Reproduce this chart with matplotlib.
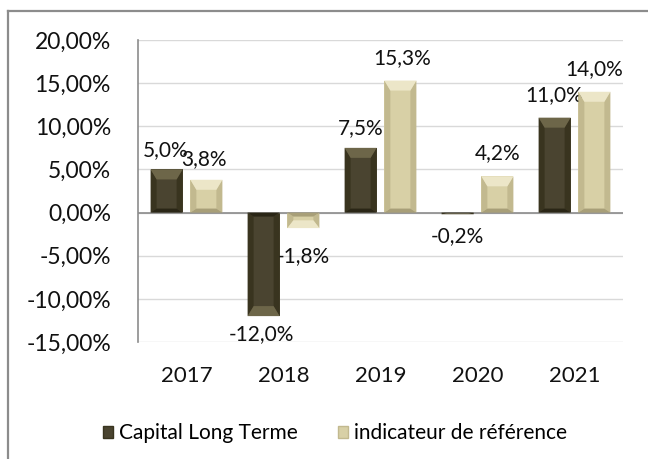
import matplotlib
matplotlib.use("Agg")
import matplotlib.pyplot as plt
from matplotlib.patches import Polygon, Patch
from matplotlib.lines import Line2D
from matplotlib.transforms import IdentityTransform
import numpy as np

years = ["2017", "2018", "2019", "2020", "2021"]
capital = [5.0, -12.0, 7.5, -0.2, 11.0]
indicateur = [3.8, -1.8, 15.3, 4.2, 14.0]
series_names = ["Capital Long Terme", "indicateur de référence"]
yticks = [-15, -10, -5, 0, 5, 10, 15, 20]

plt.rcParams['font.family'] = ['Lato', 'DejaVu Sans']

W, H, DPI = 648, 459, 100
fig = plt.figure(figsize=(W / DPI, H / DPI), dpi=DPI)
ax = fig.add_axes([138 / W, 1 - 342 / H, (623 - 138) / W, (342 - 40) / H])

x = np.arange(len(years))
bw = 0.33
gap = 0.08
off = (bw + gap) / 2

dark = {'main': '#4a4430', 'top': '#6d6649', 'side': '#39341f', 'bot': '#2a2616'}
light = {'main': '#d8d0a6', 'top': '#ece6c8', 'side': '#c2b98f', 'bot': '#a89f78'}

b1 = ax.bar(x - off, capital, bw, color=dark['main'], zorder=3)
b2 = ax.bar(x + off, indicateur, bw, color=light['main'], zorder=3)

ax.set_xlim(-0.5, len(years) - 0.5)
ax.set_ylim(-15, 20)
ax.set_yticks(yticks)
ax.set_yticklabels([f"{v:.2f}".replace('.', ',') + "%" for v in yticks])
ax.set_xticks(x)
ax.set_xticklabels(years)
ax.tick_params(axis='both', length=0, colors='#111111')
ax.tick_params(axis='y', pad=19.5, labelsize=16.5)
ax.tick_params(axis='x', pad=17, labelsize=16)
ax.grid(axis='y', color='#d9d9d9', linewidth=1.0, zorder=0)
for s in ['top', 'right', 'bottom']:
    ax.spines[s].set_visible(False)
ax.spines['left'].set_color('#8c8c8c')
ax.spines['left'].set_linewidth(1.2)
ax.axhline(0, color='#8c8c8c', linewidth=1.2, zorder=4)

fig.canvas.draw()


def bevel(patch, cols, positive):
    bb = patch.get_window_extent()
    x0, x1, y0, y1 = bb.x0, bb.x1, bb.y0, bb.y1
    h = y1 - y0
    if h < 1:
        return
    t = min(10.0, h / 2)
    s = min(6.0, (x1 - x0) / 2)
    bt = min(4.0, h / 2)
    if positive:
        tt, bb_ = t, bt
    else:
        tt, bb_ = bt, t
    ix0, ix1, iy0, iy1 = x0 + s, x1 - s, y0 + bb_, y1 - tt
    polys = [
        ([(x0, y0), (x0, y1), (ix0, iy1), (ix0, iy0)], cols['side']),
        ([(x1, y0), (x1, y1), (ix1, iy1), (ix1, iy0)], cols['side']),
        ([(x0, y1), (x1, y1), (ix1, iy1), (ix0, iy1)], cols['top'] if positive else cols['bot']),
        ([(x0, y0), (x1, y0), (ix1, iy0), (ix0, iy0)], cols['bot'] if positive else cols['top']),
    ]
    for pts, c in polys:
        fig.add_artist(Polygon(pts, closed=True, facecolor=c, edgecolor='none',
                               transform=IdentityTransform(), zorder=3.5))


for p, v in zip(b1, capital):
    bevel(p, dark, v >= 0)
for p, v in zip(b2, indicateur):
    bevel(p, light, v >= 0)


def fmt(v):
    return f"{v:.1f}".replace('.', ',') + "%"


cap_dx = [-1, -1.5, 0, 0, 0]
cap_dy = [13.7, -12.6, 14.5, -16, 16]
ind_dx = [-2, 0, 1.5, 0, 0]
ind_dy = [15, -19.8, 16.5, 17, 16.5]
for i in range(len(years)):
    ax.annotate(fmt(capital[i]), (x[i] - off, capital[i]), xytext=(cap_dx[i], cap_dy[i]),
                textcoords='offset points', ha='center', va='center', fontsize=15,
                color='#111111', zorder=6)
    ax.annotate(fmt(indicateur[i]), (x[i] + off, indicateur[i]), xytext=(ind_dx[i], ind_dy[i]),
                textcoords='offset points', ha='center', va='center', fontsize=15,
                color='#111111', zorder=6)

handles = [Patch(facecolor=dark['main'], edgecolor=dark['side']),
           Patch(facecolor=light['main'], edgecolor=light['side'])]
fig.legend(handles, series_names, loc='center', bbox_to_anchor=(0.517, 1 - 433 / H),
           ncol=2, frameon=False, fontsize=15, handlelength=0.5, handleheight=0.5,
           handletextpad=0.3, columnspacing=1.9)

# outer chart border (left and top only visible)
fig.add_artist(Line2D([7.5 / W, 7.5 / W], [0, 1 - 10.5 / H], transform=fig.transFigure,
                      color='#8c8c8c', linewidth=1.6))
fig.add_artist(Line2D([7.5 / W, 1], [1 - 10.5 / H, 1 - 10.5 / H], transform=fig.transFigure,
                      color='#8c8c8c', linewidth=1.6))

fig.savefig("out.png", dpi=DPI)
